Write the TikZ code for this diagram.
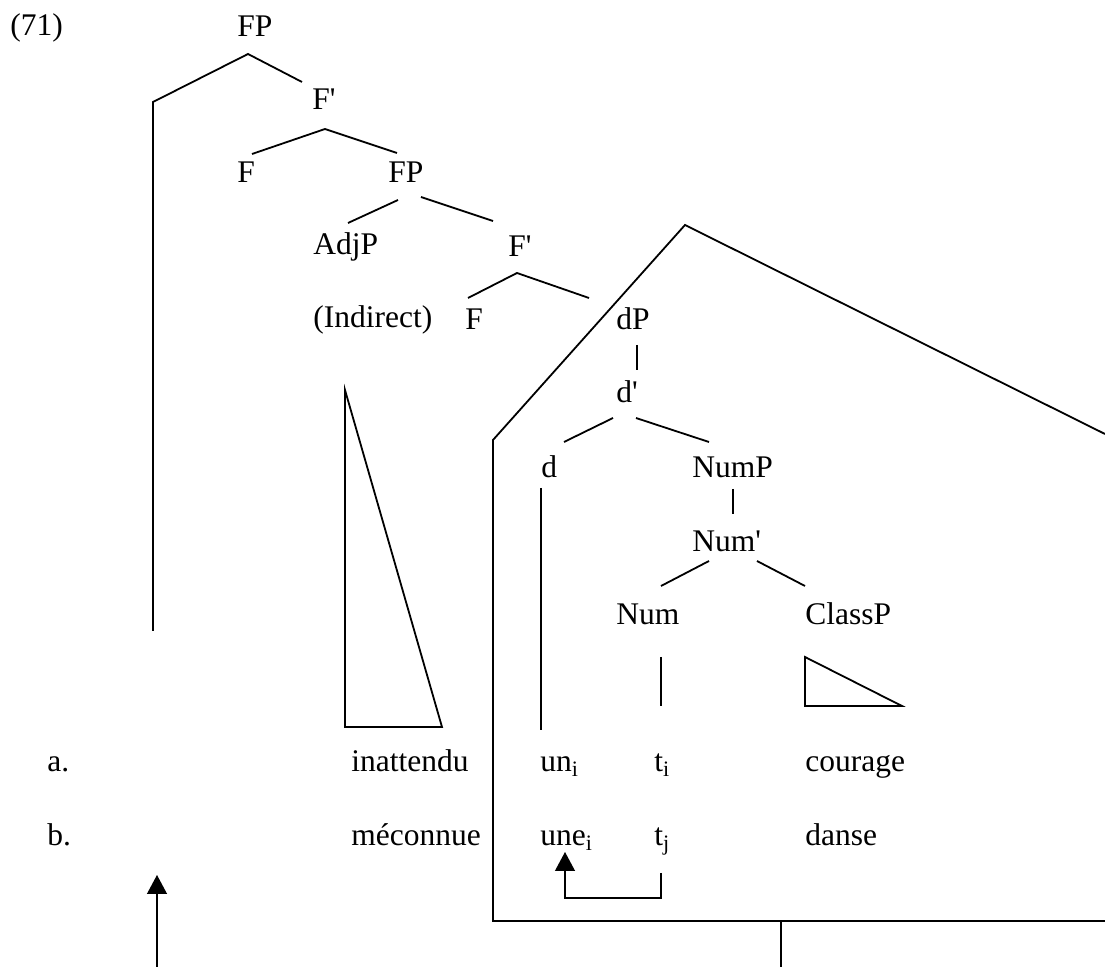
\documentclass[tikz,border=0pt]{standalone}
\usepackage{fontspec}
\newfontfamily\treefont{Liberation Serif}
\usetikzlibrary{arrows.meta}

\tikzset{
  lbl/.style={anchor=base west, inner sep=0pt, font=\treefont\fontsize{15.75pt}{19pt}\selectfont},
  branch/.style={line width=0.9pt},
  move/.style={line width=0.6pt, -{Triangle[width=10pt,length=9.5pt]}},
}

\begin{document}
\begin{tikzpicture}[x=0.5pt, y=-0.5pt, every node/.style={lbl}]
\useasboundingbox (0,0) rectangle (1105,967);

% labels of the tree
\node (ex) at (10, 36) {(71)};
\node (FP) at (237, 37) {FP};
\node (Fbar) at (312, 110) {F'};
\node (F) at (237, 183) {F};
\node (FPb) at (388, 183) {FP};
\node (AdjP) at (313, 255) {AdjP};
\node (Fbarb) at (508, 257) {F'};
\node (Ind) at (313, 328) {(Indirect)};
\node (Fb) at (465, 330) {F};
\node (dP) at (616, 330) {dP};
\node (dbar) at (616, 403) {d'};
\node (d) at (541, 478) {d};
\node (NumP) at (692, 478) {NumP};
\node (Numbar) at (692, 552) {Num'};
\node (Num) at (616, 625) {Num};
\node (ClassP) at (805, 625) {ClassP};

% the two examples
\node (la) at (47, 772) {a.};
\node (lb) at (47, 846) {b.};
\node (inatt) at (351, 772) {inattendu};
\node (mecon) at (351, 846) {méconnue};
\node (un) at (540, 772) {un\textsubscript{i}};
\node (une) at (540, 846) {une\textsubscript{i}};
\node (ti) at (654, 772) {t\textsubscript{i}};
\node (tj) at (654, 846) {t\textsubscript{j}};
\node (cour) at (805, 772) {courage};
\node (danse) at (805, 846) {danse};

% branches
\draw[branch] (153, 631) -- (153, 102) -- ([shift={(11,17)}]FP.base west)
  -- ([shift={(-10,-28)}]Fbar.base west);
\draw[branch] ([shift={(15,-29)}]F.base west) -- ([shift={(13,19)}]Fbar.base west)
  -- ([shift={(9,-30)}]FPb.base west);
\draw[branch] ([shift={(10,17)}]FPb.base west) -- ([shift={(35,-32)}]AdjP.base west);
\draw[branch] ([shift={(33,14)}]FPb.base west) -- ([shift={(-15,-36)}]Fbarb.base west);
\draw[branch] ([shift={(3,-32)}]Fb.base west) -- ([shift={(9,16)}]Fbarb.base west)
  -- ([shift={(-27,-32)}]dP.base west);
\draw[branch] ([shift={(21,15)}]dP.base west) -- ([shift={(21,-33)}]dbar.base west);
\draw[branch] ([shift={(-3,15)}]dbar.base west) -- ([shift={(23,-36)}]d.base west);
\draw[branch] ([shift={(20,15)}]dbar.base west) -- ([shift={(17,-36)}]NumP.base west);
\draw[branch] ([shift={(0,10)}]d.base west) -- ([shift={(1,-42)}]un.base west);
\draw[branch] ([shift={(41,11)}]NumP.base west) -- ([shift={(41,-38)}]Numbar.base west);
\draw[branch] ([shift={(17,9)}]Numbar.base west) -- ([shift={(45,-39)}]Num.base west);
\draw[branch] ([shift={(65,9)}]Numbar.base west) -- ([shift={(0,-39)}]ClassP.base west);
\draw[branch] ([shift={(45,32)}]Num.base west) -- ([shift={(7,-66)}]ti.base west);

% triangles
\draw[branch] ([shift={(0,32)}]ClassP.base west) -- ++(0,49) -- ++(97,0) -- cycle;
\draw[branch] ([shift={(32,62)}]Ind.base west) -- ([shift={(-6,-45)}]inatt.base west)
  -- ([shift={(91,-45)}]inatt.base west) -- cycle;

% box round the dP
\draw[branch] (1105, 434) -- (685, 225) -- (493, 440) -- (493, 921) -- (1105, 921);
\draw[branch] (781, 921) -- (781, 967);

% movements
\draw[move] ([shift={(7,27)}]tj.base west) -- ++(0,25) -| ([shift={(25,6)}]une.base west);
\draw[move] (157, 967) -- (157, 875);
\end{tikzpicture}
\end{document}
